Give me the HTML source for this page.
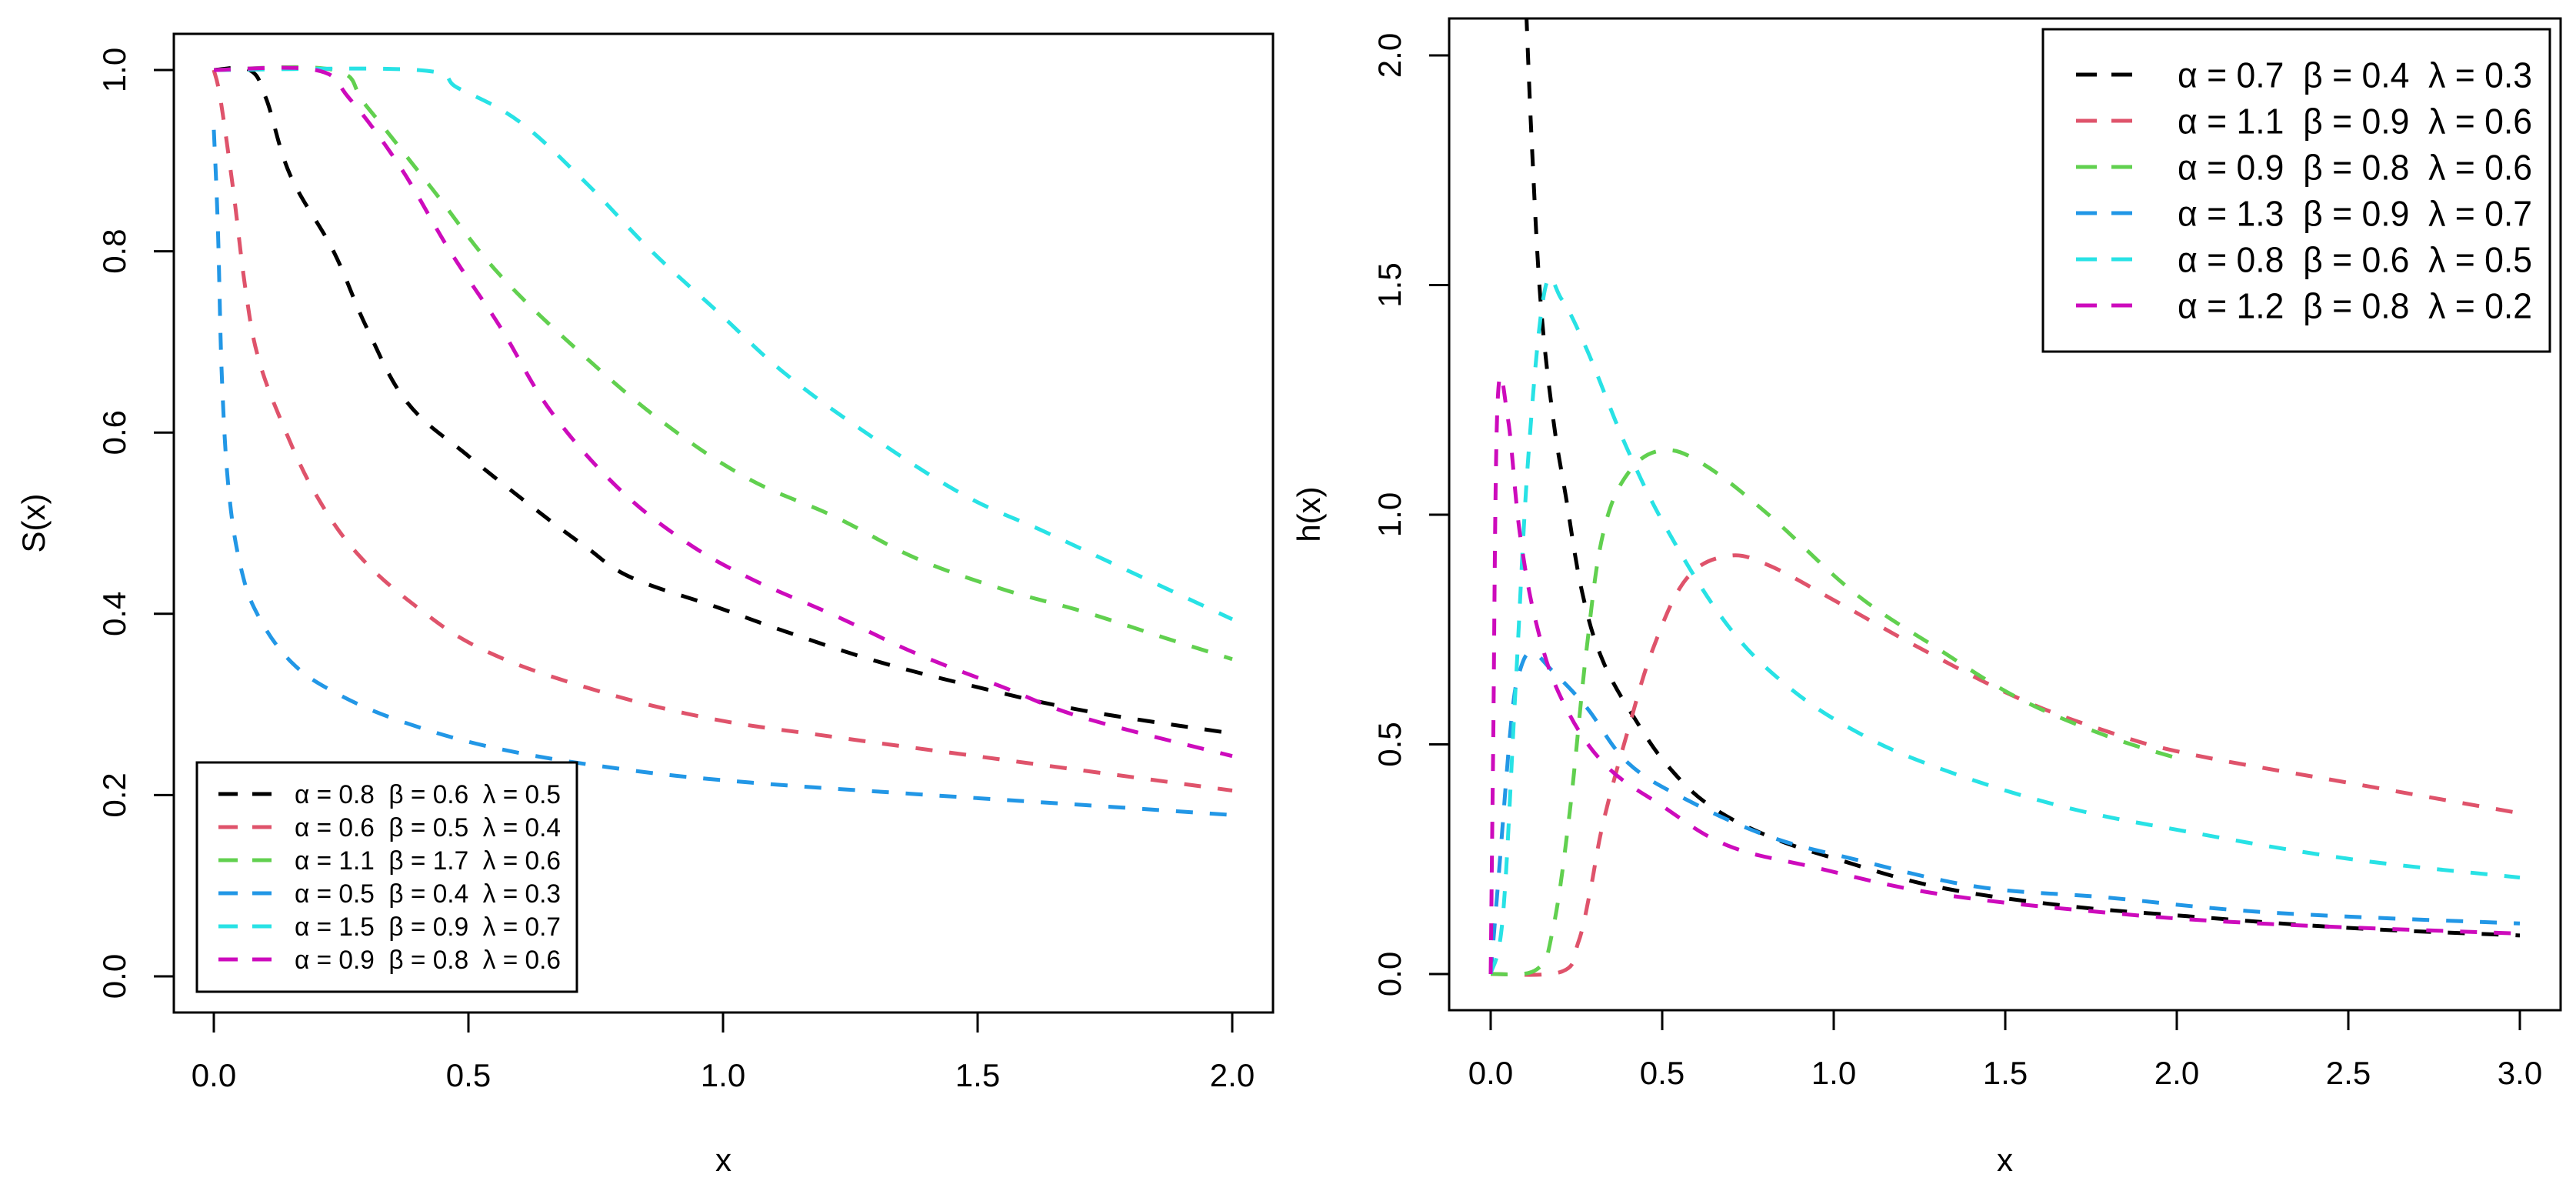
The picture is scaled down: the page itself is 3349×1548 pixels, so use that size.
<!DOCTYPE html>
<html><head><meta charset="utf-8"><style>
html,body{margin:0;padding:0;background:#fff;}
svg{display:block;font-family:"Liberation Sans",Arial,sans-serif;}
text{white-space:pre;}
</style></head><body>
<svg id="chart" width="3349" height="1548" viewBox="0 0 3349 1548">
<rect width="3349" height="1548" fill="#fff"/>
</svg>
<script>
// ---------- data ----------
const colors = ["#000000","#DF536B","#61D04F","#2297E6","#28E2E5","#CD0BBC"];
const leftLabels = ["α = 0.8  β = 0.6  λ = 0.5","α = 0.6  β = 0.5  λ = 0.4","α = 1.1  β = 1.7  λ = 0.6","α = 0.5  β = 0.4  λ = 0.3","α = 1.5  β = 0.9  λ = 0.7","α = 0.9  β = 0.8  λ = 0.6"];
const rightLabels = ["α = 0.7  β = 0.4  λ = 0.3","α = 1.1  β = 0.9  λ = 0.6","α = 0.9  β = 0.8  λ = 0.6","α = 1.3  β = 0.9  λ = 0.7","α = 0.8  β = 0.6  λ = 0.5","α = 1.2  β = 0.8  λ = 0.2"];
const leftXTicks = [0,0.5,1,1.5,2];
const leftXTickLabels = ["0.0","0.5","1.0","1.5","2.0"];
const leftYTicks = [0,0.2,0.4,0.6,0.8,1];
const leftYTickLabels = ["0.0","0.2","0.4","0.6","0.8","1.0"];
const rightXTicks = [0,0.5,1,1.5,2,2.5,3];
const rightXTickLabels = ["0.0","0.5","1.0","1.5","2.0","2.5","3.0"];
const rightYTicks = [0,0.5,1,1.5,2];
const rightYTickLabels = ["0.0","0.5","1.0","1.5","2.0"];
// S(x) series
const sBlackX=[0,0.07,0.103,0.15,0.235,0.30,0.38,0.50,0.63,0.73,0.82,0.99,1.12,1.30,1.50,1.71,2.0];
const sBlackY=[1,1,0.968,0.884,0.80,0.716,0.633,0.574,0.516,0.474,0.44,0.407,0.381,0.348,0.319,0.293,0.268];
const sRedX=[0,0.013,0.038,0.062,0.087,0.136,0.20,0.284,0.40,0.53,0.73,0.97,1.22,1.55,2.0];
const sRedY=[1,0.968,0.868,0.759,0.683,0.608,0.532,0.465,0.407,0.36,0.319,0.285,0.264,0.239,0.205];
const sGreenX=[0,0.235,0.30,0.43,0.56,0.73,0.89,1.05,1.22,1.38,1.55,1.71,1.87,2.0];
const sGreenY=[1,1,0.96,0.868,0.775,0.683,0.608,0.549,0.507,0.461,0.427,0.402,0.373,0.35];
const sBlueX=[0,0.008,0.016,0.03,0.054,0.087,0.15,0.235,0.37,0.56,0.81,1.05,1.38,1.71,2.0];
const sBlueY=[0.934,0.825,0.658,0.532,0.449,0.398,0.348,0.314,0.281,0.251,0.228,0.214,0.201,0.189,0.178];
const sCyanX=[0,0.40,0.48,0.60,0.73,0.86,0.99,1.12,1.28,1.47,1.63,1.79,2.0];
const sCyanY=[1,1,0.98,0.943,0.876,0.80,0.733,0.666,0.60,0.532,0.491,0.449,0.394];
const sMagX=[0,0.20,0.267,0.366,0.464,0.563,0.66,0.79,0.92,1.05,1.22,1.38,1.55,1.71,2.0];
const sMagY=[1,1,0.968,0.893,0.80,0.716,0.625,0.541,0.482,0.44,0.398,0.356,0.319,0.285,0.243];
// h(x) series
const hBlackX=[0.104,0.121,0.146,0.182,0.219,0.267,0.328,0.425,0.52,0.64,0.81,1.01,1.30,1.66,2.03,2.51,3.0];
const hBlackY=[2.09,1.79,1.46,1.21,1.04,0.83,0.68,0.55,0.45,0.366,0.30,0.25,0.19,0.15,0.126,0.10,0.084];
const hRedX=[0,0.206,0.255,0.29,0.328,0.40,0.474,0.57,0.69,0.81,1.01,1.25,1.54,1.79,2.03,2.51,3.0];
const hRedY=[0,0.005,0.068,0.18,0.33,0.53,0.71,0.86,0.91,0.89,0.81,0.71,0.60,0.53,0.48,0.415,0.35];
const hGreenX=[0,0.134,0.182,0.23,0.28,0.328,0.40,0.50,0.62,0.81,1.06,1.30,1.54,1.79,2.0];
const hGreenY=[0,0.01,0.10,0.35,0.71,0.96,1.09,1.14,1.11,1.0,0.83,0.71,0.60,0.52,0.47];
const hBlueX=[0,0.024,0.06,0.085,0.12,0.18,0.28,0.40,0.57,0.81,1.06,1.42,1.79,2.27,3.0];
const hBlueY=[0,0.22,0.55,0.66,0.70,0.66,0.58,0.46,0.38,0.30,0.25,0.19,0.167,0.134,0.11];
const hCyanX=[0,0.036,0.073,0.11,0.158,0.206,0.28,0.40,0.52,0.69,0.86,1.06,1.30,1.66,2.03,2.51,3.0];
const hCyanY=[0,0.13,0.63,1.13,1.49,1.47,1.36,1.14,0.96,0.76,0.63,0.53,0.45,0.366,0.31,0.25,0.21];
const hMagX=[0,0.007,0.02,0.05,0.085,0.134,0.206,0.328,0.50,0.69,0.94,1.30,1.79,2.27,3.0];
const hMagY=[0,0.47,1.24,1.21,0.96,0.76,0.60,0.46,0.366,0.28,0.233,0.175,0.134,0.109,0.088];

const leftSeries=[[sBlackX,sBlackY],[sRedX,sRedY],[sGreenX,sGreenY],[sBlueX,sBlueY],[sCyanX,sCyanY],[sMagX,sMagY]];
const rightSeries=[[hBlackX,hBlackY],[hRedX,hRedY],[hGreenX,hGreenY],[hBlueX,hBlueY],[hCyanX,hCyanY],[hMagX,hMagY]];

const NS="http://www.w3.org/2000/svg";
const svg=document.getElementById('chart');
function mk(tag,attrs,parent){const e=document.createElementNS(NS,tag);for(const k in attrs)e.setAttribute(k,attrs[k]);(parent||svg).appendChild(e);return e;}

// smooth path through points (Catmull-Rom, mild tension)
function smoothPath(P){
  let d='M'+P[0][0].toFixed(1)+','+P[0][1].toFixed(1);
  const t=0.18;
  for(let i=0;i<P.length-1;i++){
    const p0=P[Math.max(0,i-1)],p1=P[i],p2=P[i+1],p3=P[Math.min(P.length-1,i+2)];
    const c1=[p1[0]+(p2[0]-p0[0])*t,p1[1]+(p2[1]-p0[1])*t];
    const c2=[p2[0]-(p3[0]-p1[0])*t,p2[1]-(p3[1]-p1[1])*t];
    d+=' C'+c1[0].toFixed(1)+','+c1[1].toFixed(1)+' '+c2[0].toFixed(1)+','+c2[1].toFixed(1)+' '+p2[0].toFixed(1)+','+p2[1].toFixed(1);
  }
  return d;
}

function panel(cfg){
  const g=mk('g',{});
  
  
  const sx=v=>cfg.x0+(v-cfg.xmin)*(cfg.x1-cfg.x0)/(cfg.xmax-cfg.xmin);
  const sy=v=>cfg.y0+(v-cfg.ymin)*(cfg.y1-cfg.y0)/(cfg.ymax-cfg.ymin);
  const cid='clip-'+cfg.name;
  const cp=mk('clipPath',{id:cid},g);
  mk('rect',{x:cfg.bx0,y:cfg.by0,width:cfg.bx1-cfg.bx0,height:cfg.by1-cfg.by0},cp);
  cfg.series.forEach((s,i)=>{
    const pts=s[0].map((xv,j)=>[sx(xv),sy(s[1][j])]);
    const p=mk('path',{d:smoothPath(pts),fill:'none',stroke:colors[i],'stroke-width':5,'stroke-dasharray':'22 22','clip-path':'url(#'+cid+')'},g);
    
    
  });
  const box=mk('rect',{x:cfg.bx0,y:cfg.by0,width:cfg.bx1-cfg.bx0,height:cfg.by1-cfg.by0,fill:'none',stroke:'#000','stroke-width':3},g);
  
  
  const xa=mk('g',{},g);
  
  
  mk('line',{x1:sx(cfg.xt[0]),x2:sx(cfg.xt[cfg.xt.length-1]),y1:cfg.by1,y2:cfg.by1,stroke:'#000','stroke-width':3},xa);
  cfg.xt.forEach((t,i)=>{
    mk('line',{x1:sx(t),x2:sx(t),y1:cfg.by1,y2:cfg.by1+26,stroke:'#000','stroke-width':3},xa);
    const tx=mk('text',{x:sx(t),y:cfg.by1+96,'font-size':42,'text-anchor':'middle',fill:'#000'},xa);
    tx.textContent=cfg.xtl[i];
    
    
  });
  const ya=mk('g',{},g);
  
  
  mk('line',{x1:cfg.bx0,x2:cfg.bx0,y1:sy(cfg.yt[0]),y2:sy(cfg.yt[cfg.yt.length-1]),stroke:'#000','stroke-width':3},ya);
  cfg.yt.forEach((t,i)=>{
    mk('line',{x1:cfg.bx0-26,x2:cfg.bx0,y1:sy(t),y2:sy(t),stroke:'#000','stroke-width':3},ya);
    const lx=cfg.bx0-63;
    const tx=mk('text',{x:lx,y:sy(t),'font-size':42,'text-anchor':'middle',fill:'#000',transform:'rotate(-90 '+lx+' '+sy(t)+')'},ya);
    tx.textContent=cfg.ytl[i];
    
    
  });
  const xt=mk('text',{x:(cfg.bx0+cfg.bx1)/2,y:1522,'font-size':42,'text-anchor':'middle',fill:'#000'},g);
  xt.textContent='x';
  
  
  const ty=(cfg.by0+cfg.by1)/2;
  const yt=mk('text',{x:cfg.ytitleX,y:ty,'font-size':42,'text-anchor':'middle',fill:'#000',transform:'rotate(-90 '+cfg.ytitleX+' '+ty+')'},g);
  yt.textContent=cfg.ytitle;
  
  
  const L=cfg.leg;
  const lg=mk('g',{},g);
  
  
  mk('rect',{x:L.x0,y:L.y0,width:L.x1-L.x0,height:L.y1-L.y0,fill:'#fff',stroke:'#000','stroke-width':3},lg);
  cfg.labels.forEach((lab,i)=>{
    const y=L.r0+i*L.dy;
    const e=mk('g',{},lg);
    
    
    mk('line',{x1:L.lx0,x2:L.lx1,y1:y,y2:y,stroke:colors[i],'stroke-width':5,'stroke-dasharray':L.dash},e);
    const t=mk('text',{x:L.tx,y:y+L.fs*0.36,'font-size':L.fs,fill:'#000',textLength:L.tw,lengthAdjust:'spacingAndGlyphs'},e);
    t.textContent=lab;
  });
}

panel({name:'survival-panel',xmin:0,xmax:2,x0:278,x1:1602,ymin:0,ymax:1,y0:1269,y1:91,
  bx0:226,bx1:1655,by0:44,by1:1316,series:leftSeries,xt:leftXTicks,xtl:leftXTickLabels,yt:leftYTicks,ytl:leftYTickLabels,
  ytitle:'S(x)',ytitleX:58,labels:leftLabels,
  leg:{x0:256,y0:991,x1:750,y1:1289,r0:1032,dy:43,lx0:284,lx1:353,dash:'25 19',tx:383,tw:346,fs:34}});
panel({name:'hazard-panel',xmin:0,xmax:3,x0:1938,x1:3276,ymin:0,ymax:2,y0:1266,y1:72,
  bx0:1884,bx1:3329,by0:24,by1:1313,series:rightSeries,xt:rightXTicks,xtl:rightXTickLabels,yt:rightYTicks,ytl:rightYTickLabels,
  ytitle:'h(x)',ytitleX:1716,labels:rightLabels,
  leg:{x0:2656,y0:38,x1:3315,y1:457,r0:97,dy:60,lx0:2699,lx1:2772,dash:'27 19',tx:2831,tw:461,fs:46}});
</script>
</body></html>
